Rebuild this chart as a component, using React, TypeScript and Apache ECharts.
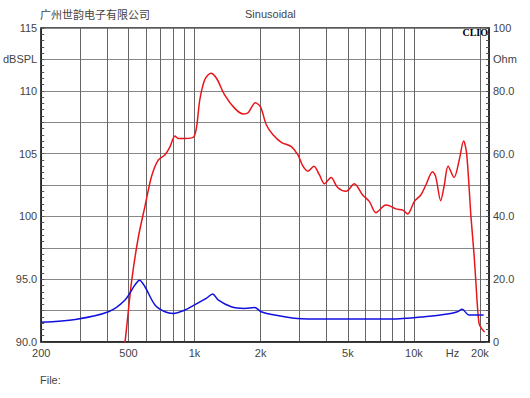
import React, { useEffect, useRef } from "react";
import * as echarts from "echarts";

const splFreq = [470, 482, 517, 555, 594, 637, 684, 733, 773, 814, 843, 904, 987, 1021, 1057, 1114, 1186, 1259, 1369, 1525, 1670, 1754, 1893, 2000, 2124, 2278, 2485, 2760, 2960, 3120, 3290, 3500, 3710, 3910, 4190, 4490, 4910, 5350, 5840, 6260, 6710, 7450, 7850, 8290, 8890, 9370, 10050, 10750, 11340, 12160, 12580, 13250, 13730, 14320, 15250, 16100, 16850, 17400, 18200, 18800, 19100, 19800, 20500, 21000];
const splDb = [88.8, 90, 94.9, 98.4, 100.8, 103.2, 104.5, 104.9, 105.55, 106.4, 106.2, 106.2, 106.3, 107.1, 109.3, 110.9, 111.4, 111.0, 109.7, 108.6, 108.15, 108.25, 109.05, 108.7, 107.3, 106.5, 105.9, 105.55, 104.9, 104.0, 103.6, 104.0, 103.3, 102.6, 103.1, 102.3, 102.0, 102.6, 101.7, 101.2, 100.3, 100.9, 100.8, 100.6, 100.5, 100.2, 101.2, 101.7, 102.5, 103.55, 103.15, 101.25, 102.4, 104.0, 103.1, 104.5, 106.0, 105.0, 100.0, 97.0, 95.2, 91.5, 91.0, 90.8];

const impFreq = [200, 286, 405, 482, 535, 561, 594, 660, 733, 800, 904, 1000, 1130, 1210, 1280, 1470, 1690, 1880, 2010, 2320, 3060, 4660, 7860, 11150, 14700, 15800, 16600, 17800, 18800, 20800];
const impOhm = [6.27, 7.2, 9.65, 13.4, 18.2, 19.7, 17.6, 11.8, 9.65, 9.1, 10.2, 11.8, 13.9, 15.3, 13.4, 11.2, 10.7, 11.0, 9.65, 8.6, 7.4, 7.3, 7.3, 8.05, 9.1, 9.65, 10.4, 8.6, 8.6, 8.6];

const xGridValues = [300, 400, 500, 600, 700, 800, 900, 1000, 2000, 3000, 4000, 5000, 6000, 7000, 8000, 9000, 10000, 20000];
const xLabelValues = [200, 500, 1000, 2000, 5000, 10000, 15000, 20000];
const xLabelTexts = ["200", "500", "1k", "2k", "5k", "10k", "Hz", "20k"];

const leftLabels: Record<string, string> = { "115": "115", "112.5": "dBSPL", "110": "110", "105": "105", "100": "100", "95": "95.0", "90": "90.0" };
const rightLabels: Record<string, string> = { "100": "100", "90": "Ohm", "80": "80.0", "60": "60.0", "40": "40.0", "20": "20.0", "0": "0" };

const FONT = "Liberation Sans, Arial, sans-serif";
const TXT = "#444";

export default function App() {
  const ref = useRef<HTMLDivElement>(null);
  useEffect(() => {
    if (!ref.current) return;
    const chart = echarts.init(ref.current, null, { renderer: "svg" });
    chart.setOption({
      animation: false,
      backgroundColor: "#fff",
      textStyle: { fontFamily: FONT },
      grid: { left: 40, right: 41, top: 28, bottom: 56, show: true, borderColor: "#222", borderWidth: 1.5 },
      graphic: [
        { type: "text", left: 40, top: 8, style: { text: "广州世韵电子有限公司", fontSize: 11, fill: TXT, fontFamily: "Noto Sans CJK SC" } },
        { type: "text", left: 245, top: 8, style: { text: "Sinusoidal", fontSize: 11, fill: TXT, fontFamily: FONT } },
        { type: "text", right: 42, top: 27, style: { text: "CLIO", fontSize: 10, fontWeight: "bold", fill: "#000", fontFamily: "Liberation Serif, serif" } },
        { type: "text", left: 40, top: 374, style: { text: "File:", fontSize: 11, fill: TXT, fontFamily: FONT } },
      ],
      xAxis: {
        type: "log",
        logBase: 10,
        min: 200,
        max: 22000,
        axisLine: { show: true, lineStyle: { color: "#222", width: 1.5 } },
        axisTick: { show: false, customValues: xGridValues },
        splitLine: { show: true, lineStyle: { color: "#666", width: 1 } },
        minorSplitLine: { show: false },
        axisLabel: {
          customValues: xLabelValues,
          formatter: (v: number) => {
            const i = xLabelValues.findIndex((x) => Math.abs(x - v) < 1);
            return i >= 0 ? xLabelTexts[i] : "";
          },
          color: TXT,
          fontSize: 11,
          margin: 5,
          hideOverlap: false,
          showMinLabel: true,
          showMaxLabel: true,
        },
      },
      yAxis: [
        {
          type: "value",
          min: 90,
          max: 115,
          interval: 2.5,
          position: "left",
          axisLine: { show: true, lineStyle: { color: "#222", width: 1.5 } },
          axisTick: { show: true, inside: true, length: 3, lineStyle: { color: "#555" } },
          minorTick: { show: true, splitNumber: 5, length: 3, lineStyle: { color: "#555" } },
          splitLine: { show: true, lineStyle: { color: "#888", width: 1 } },
          axisLabel: {
            formatter: (v: number) => leftLabels[String(v)] ?? "",
            color: TXT,
            fontSize: 11,
            margin: 4,
          },
        },
        {
          type: "value",
          min: 0,
          max: 100,
          interval: 10,
          position: "right",
          axisLine: { show: true, lineStyle: { color: "#222", width: 1.5 } },
          axisTick: { show: true, inside: true, length: 3, lineStyle: { color: "#555" } },
          minorTick: { show: true, splitNumber: 5, length: 3, lineStyle: { color: "#555" } },
          splitLine: { show: false },
          axisLabel: {
            formatter: (v: number) => rightLabels[String(v)] ?? "",
            color: TXT,
            fontSize: 11,
            margin: 4,
          },
        },
      ],
      series: [
        {
          type: "line",
          name: "SPL",
          yAxisIndex: 0,
          data: splFreq.map((f, i) => [f, splDb[i]]),
          showSymbol: false,
          smooth: 0.3,
          clip: true,
          lineStyle: { color: "#e8161b", width: 1.5 },
        },
        {
          type: "line",
          name: "Impedance",
          yAxisIndex: 1,
          data: impFreq.map((f, i) => [f, impOhm[i]]),
          showSymbol: false,
          smooth: 0.3,
          clip: true,
          lineStyle: { color: "#1010e0", width: 1.5 },
        },
      ],
    });
    return () => chart.dispose();
  }, []);
  return <div ref={ref} style={{ width: 530, height: 398, position: "absolute", left: 0, top: 0 }} />;
}
